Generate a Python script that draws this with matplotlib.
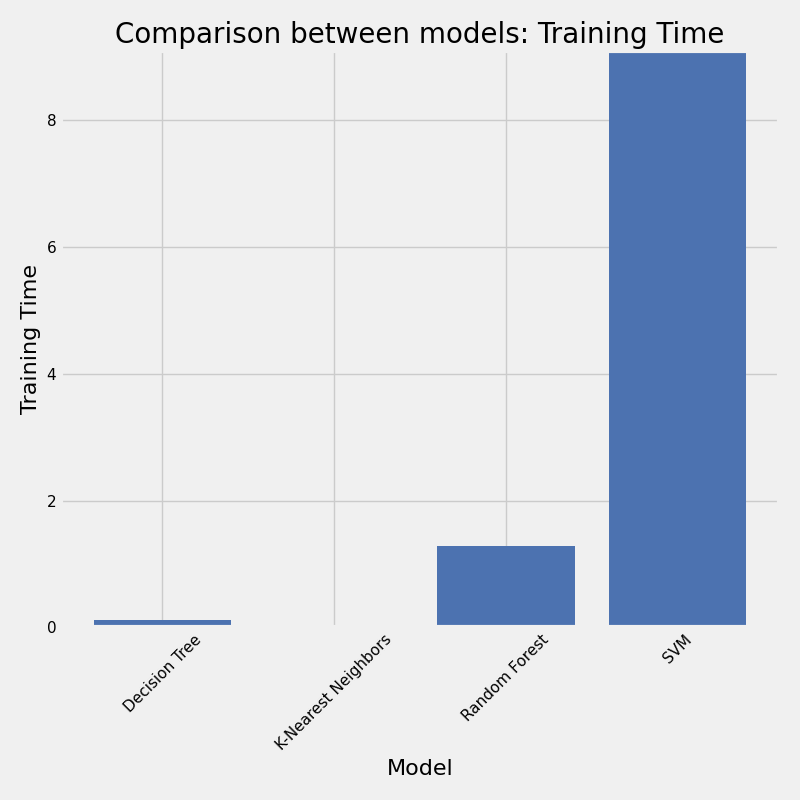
import matplotlib
matplotlib.use('Agg')
from matplotlib import pyplot as plt

models = ['Decision Tree', 'K-Nearest Neighbors', 'Random Forest', 'SVM']
train_time = [0.11, 0.003, 1.29, 9.09]

plt.style.use('fivethirtyeight')
fig, ax = plt.subplots(figsize=(8, 8), dpi=100)
ax.bar(models, train_time, color='#4C72B0', width=0.8)
ax.margins(y=0)
ax.set_title('Comparison between models: Training Time', fontsize=20)
ax.set_xlabel('Model', fontsize=16)
ax.set_ylabel('Training Time', fontsize=16)
plt.xticks(rotation=45, fontsize=11)
plt.yticks(fontsize=11)
plt.tight_layout()
plt.savefig('out.png')
